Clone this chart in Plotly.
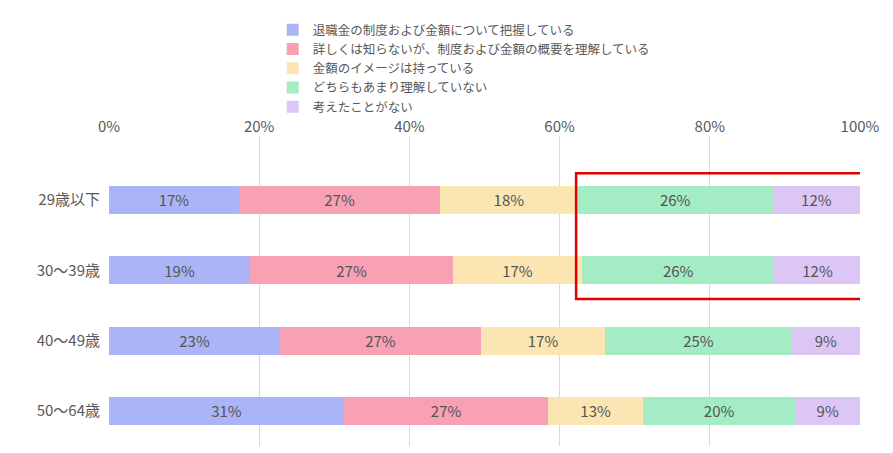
import plotly.graph_objects as go

categories = ["29歳以下", "30～39歳", "40～49歳", "50～64歳"]
series_names = ["退職金の制度および金額について把握している",
                "詳しくは知らないが、制度および金額の概要を理解している",
                "金額のイメージは持っている",
                "どちらもあまり理解していない",
                "考えたことがない"]
values = [
    [17.3, 18.8, 22.8, 31.3],
    [26.8, 27.0, 26.7, 27.2],
    [18.3, 17.2, 16.6, 12.6],
    [26.0, 25.6, 24.8, 20.3],
    [11.6, 11.5, 9.1, 8.6],
]
colors = ["#aab4f6", "#f8a0b4", "#fbe5b2", "#a3ecc4", "#dcc6f6"]
tick_vals = [0, 20, 40, 60, 80, 100]
tick_text = ["0%", "20%", "40%", "60%", "80%", "100%"]

ypos = list(range(len(categories)))
fig = go.Figure()
for name, vals, c in zip(series_names, values, colors):
    fig.add_trace(go.Bar(
        y=ypos, x=vals, name=name, orientation="h", width=0.4,
        marker=dict(color=c, line=dict(width=0)),
        text=[f"{round(v)}%" for v in vals], textposition="inside",
        insidetextanchor="middle", textfont=dict(size=15, color="#555555"),
    ))

fig.add_shape(type="rect", x0=62.2, x1=101.9, y0=-0.38, y1=1.41,
              xref="x", yref="y", line=dict(color="#e00000", width=2.5),
              fillcolor="rgba(0,0,0,0)")

fig.update_layout(
    barmode="stack", width=893, height=453,
    margin=dict(l=101, r=41, t=128, b=15, autoexpand=False),
    paper_bgcolor="white", plot_bgcolor="white",
    font=dict(family="Noto Sans CJK JP", color="#595959"),
    legend=dict(x=0.218, y=1.39, xanchor="left", yanchor="top",
                traceorder="normal",
                font=dict(size=12.5, color="#595959"), tracegroupgap=0,
                itemwidth=30, bgcolor="rgba(0,0,0,0)"),
    xaxis=dict(side="top", range=[0, 100], tickvals=tick_vals, ticktext=tick_text,
               showgrid=True, gridcolor="#d9d9d9", zeroline=False, automargin=False,
               tickfont=dict(size=15, color="#595959"), fixedrange=True),
    yaxis=dict(range=[3.5, -0.91], tickvals=ypos, ticktext=categories,
               showgrid=False, zeroline=False, ticks="", automargin=False,
               tickfont=dict(size=15, color="#595959"), ticklabelstandoff=8),
    uniformtext=dict(minsize=10, mode="show"),
)
fig.write_html("out.html")
